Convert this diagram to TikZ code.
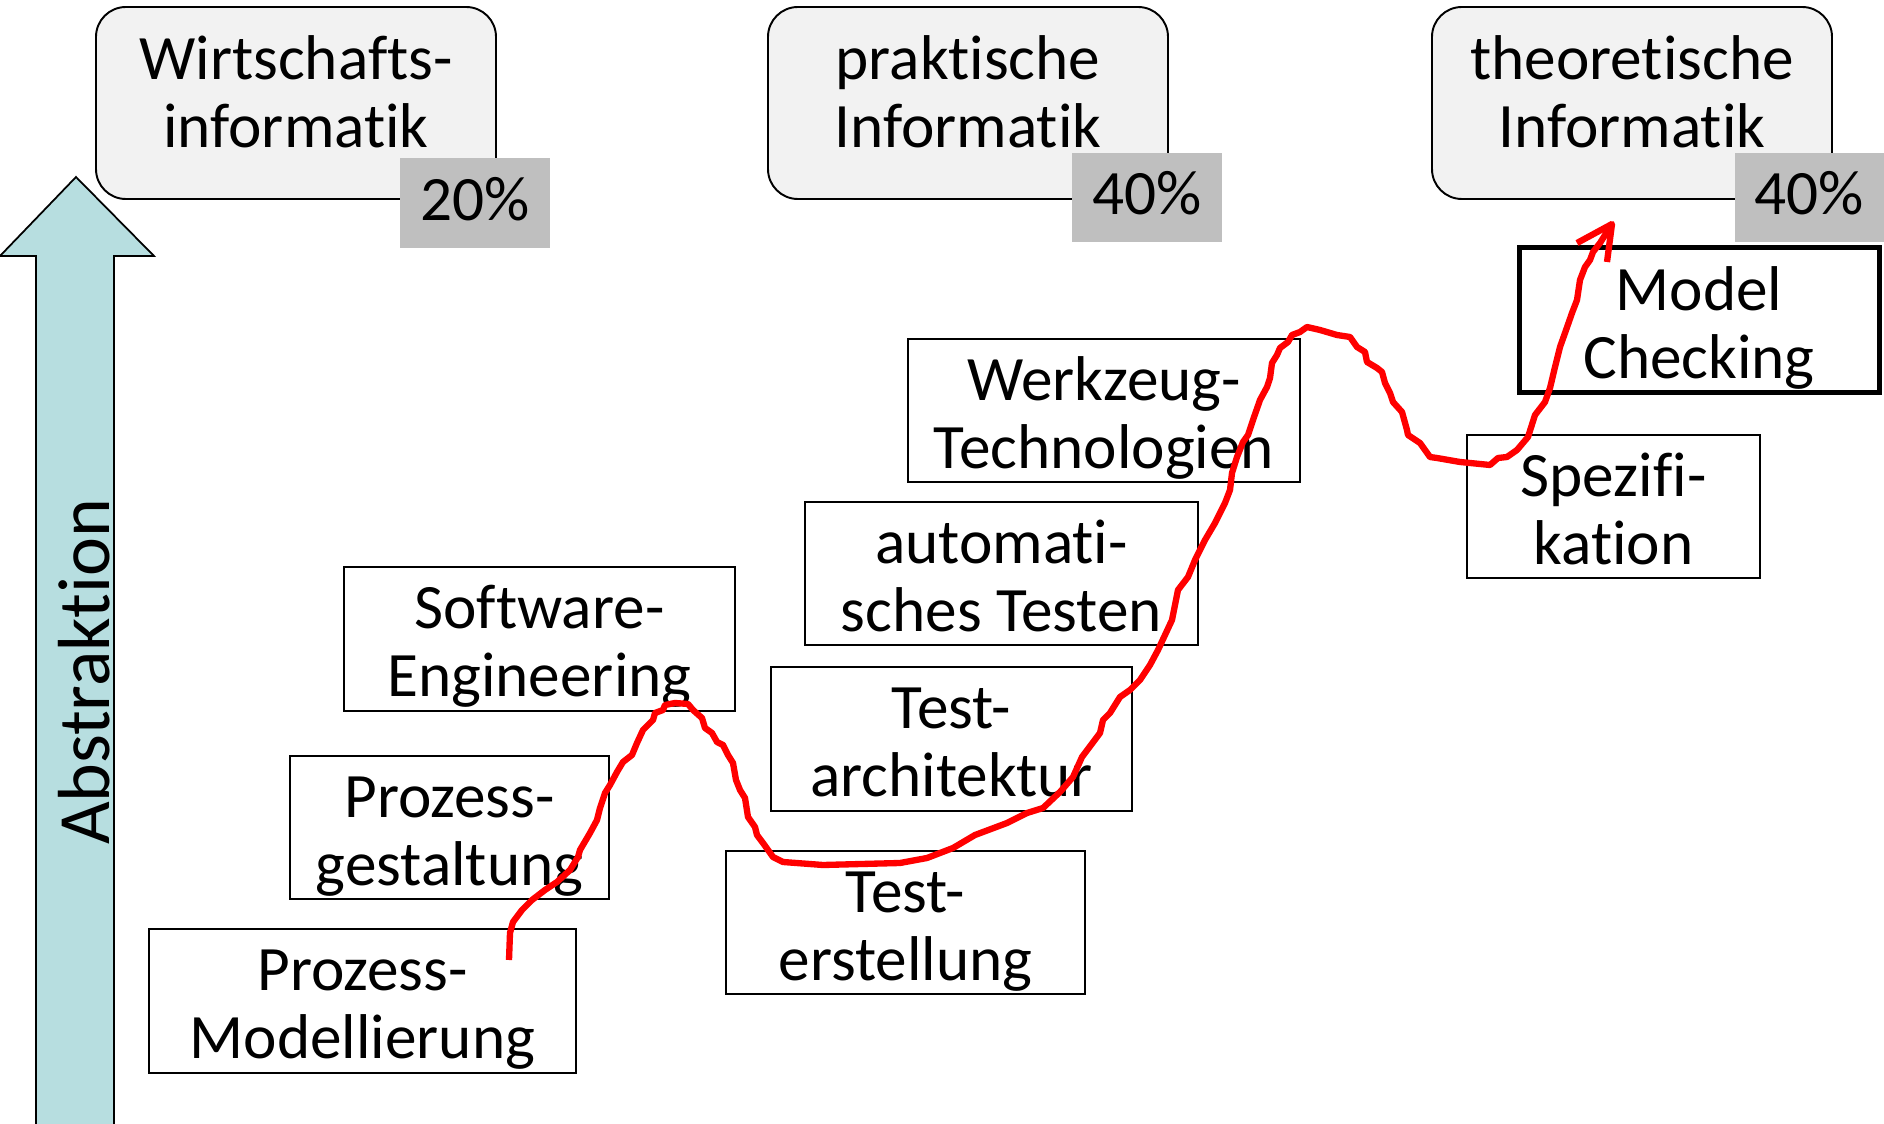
\documentclass[tikz,border=0pt]{standalone}
\usepackage{fontspec}
\setmainfont{Carlito}[Ligatures={NoCommon,NoContextual}, Contextuals=NoAlternate]
\definecolor{panelgray}{RGB}{242,242,242}
\definecolor{pctgray}{RGB}{191,191,191}
\definecolor{arrowteal}{RGB}{183,222,224}
% struts that fix the vertical extent of the two-line labels
\newcommand\hiStrut{\rule{0pt}{37.5pt}}
\newcommand\loStrut{\rule[-10.2pt]{0pt}{10.2pt}}
\newcommand\loStrutTop{\rule[-25pt]{0pt}{25pt}}
\newcommand\pctStrut{\rule[-9.1pt]{0pt}{37.6pt}}
\newcommand\boxfont{\fontsize{36pt}{38.7pt}\selectfont}
% box from corner (x1,y1) to corner (x2,y2), in pixel units
\newcommand\placebox[7]{%
  \node[#1, minimum width={(#5-#3)*0.02cm}, minimum height={(#6-#4)*0.02cm}]
    (#2) at ({(#3+#5)/2},{(#4+#6)/2}) {#7};}
\tikzset{
  area/.style={draw=black, line width=1.1pt, fill=panelgray, rounded corners=17pt,
    inner sep=0pt, align=center, font=\boxfont},
  share/.style={fill=pctgray, inner sep=0pt, align=center, font=\boxfont},
  stage/.style={draw=black, line width=1pt, fill=white, inner xsep=0pt,
    inner ysep=-3pt, align=center, font=\boxfont},
  goal/.style={stage, line width=2.85pt},
  path mark/.style={draw=red, line width=3.6pt, line join=round},
}
\begin{document}
\begin{tikzpicture}[x=0.02cm, y=-0.02cm]
\useasboundingbox (0,0) rectangle (1884,1124);
\clip (0,0) rectangle (1884,1124);

% subject areas with their shares
\placebox{area}{wi}{96}{7}{496}{199}{\hiStrut Wirtschafts-\\informatik\loStrutTop}
\placebox{area}{pi}{768}{7}{1168}{199}{\hiStrut praktische\\Informatik\loStrutTop}
\placebox{area}{ti}{1432}{7}{1832}{199}{\hiStrut theoretische\\Informatik\loStrutTop}
\placebox{share}{wip}{400}{158}{550}{248}{\pctStrut 20\%}
\placebox{share}{pip}{1072}{153}{1222}{242}{\pctStrut 40\%}
\placebox{share}{tip}{1735}{153}{1884}{242}{\pctStrut 40\%}

% topics
\placebox{stage}{pm}{149}{929}{576}{1073}{\hiStrut Prozess-\\Modellierung\loStrut}
\placebox{stage}{pg}{290}{756}{609}{899}{\hiStrut Prozess-\\gestaltung\loStrut}
\placebox{stage}{se}{344}{567}{735}{711}{\hiStrut Software-\\Engineering\loStrut}
\placebox{stage}{te}{726}{851}{1085}{994}{\hiStrut Test-\\erstellung\loStrut}
\placebox{stage}{ta}{771}{667}{1132}{811}{\hiStrut Test-\\architektur\loStrut}
\placebox{stage}{at}{805}{502}{1198}{645}{\hiStrut automati-\\sches Testen\loStrut}
\placebox{stage}{wt}{908}{339}{1300}{482}{\hiStrut Werkzeug-\\Technologien\loStrut}
\placebox{stage}{sp}{1467}{435}{1760}{578}{\hiStrut Spezifi-\\kation\loStrut}
\placebox{goal}{mc}{1519}{248}{1879}{393}{\hiStrut Model\\Checking\loStrut}

% abstraction axis
\draw[fill=arrowteal, line width=1pt, line join=miter]
  (36,1130) -- (36,256) -- (0,256) -- (76,177) -- (154,256) -- (114,256) -- (114,1130) -- cycle;
\node[rotate=90, anchor=base, inner sep=0pt, font=\fontsize{42pt}{48pt}\selectfont]
  (abs) at (109,672) {Abstraktion};

% hand-drawn learning path
\coordinate (pathstart) at (509,960);
\coordinate (pathend) at (1612,224);
\draw[path mark] (pathstart)
  -- (510,933) -- (513,922) -- (522,910) -- (532,900) -- (545,890) -- (557,882)
  -- (570,870) -- (578,857) -- (580,850) -- (590,833) -- (597,820) -- (600,808)
  -- (605,793) -- (610,785) -- (617,772) -- (623,762) -- (632,755) -- (637,743)
  -- (643,730) -- (653,720) -- (655,713) -- (663,710) -- (665,705) -- (675,703)
  -- (688,704) -- (693,710) -- (702,718) -- (705,728) -- (712,733) -- (717,742)
  -- (723,745) -- (728,755) -- (733,763) -- (736,780) -- (740,790) -- (745,798)
  -- (748,817) -- (755,827) -- (757,835) -- (763,843) -- (773,857) -- (783,862)
  -- (823,865) -- (900,863) -- (927,858) -- (953,848) -- (975,835) -- (1007,823)
  -- (1027,813) -- (1043,808) -- (1060,792) -- (1073,777) -- (1082,757)
  -- (1100,733) -- (1103,720) -- (1110,713) -- (1120,697) -- (1130,690)
  -- (1140,680) -- (1150,665) -- (1158,650) -- (1165,635) -- (1172,620)
  -- (1178,590) -- (1188,577) -- (1195,560) -- (1205,540) -- (1215,523)
  -- (1225,503) -- (1230,490) -- (1232,473) -- (1237,457) -- (1243,442)
  -- (1248,435) -- (1253,420) -- (1260,400) -- (1267,387) -- (1270,378)
  -- (1272,363) -- (1277,355) -- (1280,348) -- (1288,342) -- (1292,335)
  -- (1300,332) -- (1307,327) -- (1320,330) -- (1337,335) -- (1350,337)
  -- (1357,347) -- (1365,352) -- (1367,362) -- (1377,368) -- (1382,372)
  -- (1385,383) -- (1390,393) -- (1393,402) -- (1402,412) -- (1407,430)
  -- (1408,435) -- (1420,443) -- (1430,457) -- (1437,458) -- (1460,462)
  -- (1490,465) -- (1498,458) -- (1507,457) -- (1517,450) -- (1528,437)
  -- (1535,415) -- (1545,402) -- (1550,388) -- (1555,367) -- (1560,347)
  -- (1565,333) -- (1572,313) -- (1577,300) -- (1580,280) -- (1585,267)
  -- (1590,260) -- (1593,252) -- (1600,243) -- (pathend);
\draw[path mark] (1577,243) -- (pathend) -- (1607,262);
\end{tikzpicture}
\end{document}
